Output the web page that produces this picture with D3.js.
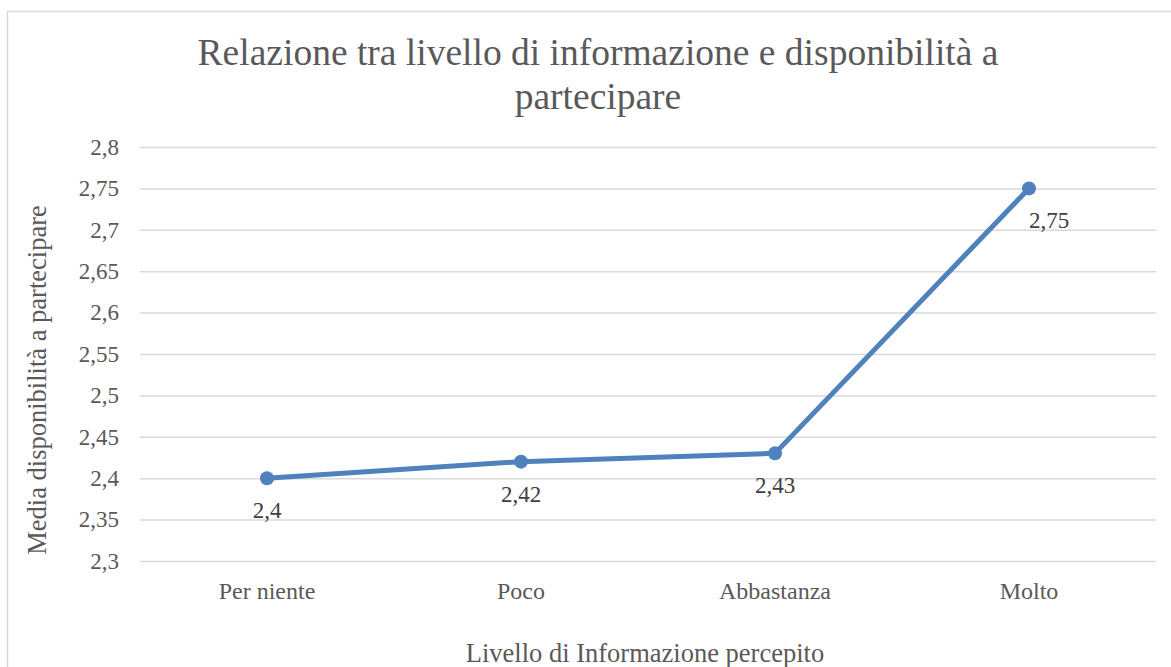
<!DOCTYPE html>
<html>
<head>
<meta charset="utf-8">
<script src="https://cdn.jsdelivr.net/npm/d3@7"></script>
<style>
  body { margin: 0; background: #fff; }
  text { font-family: "Liberation Serif", "Times New Roman", serif; }
</style>
</head>
<body>
<svg id="chart" width="1171" height="667"></svg>
<script>
// Chart data
var categories = ["Per niente", "Poco", "Abbastanza", "Molto"];
var values = [2.4, 2.42, 2.43, 2.75];
var yTicks = [2.3, 2.35, 2.4, 2.45, 2.5, 2.55, 2.6, 2.65, 2.7, 2.75, 2.8];
var titleLines = ["Relazione tra livello di informazione e disponibilità a", "partecipare"];
var xTitle = "Livello di Informazione percepito";
var yTitle = "Media disponibilità a partecipare";

var margin = {top: 147, right: 15, bottom: 106, left: 140},
  width = 1171 - margin.left - margin.right,
  height = 667 - margin.top - margin.bottom;

var fmt = function(v) { return String(v).replace(".", ","); };

var svg = d3.select("#chart");

// outer chart border
svg.append("rect")
  .attr("x", 7.5).attr("y", 11.5)
  .attr("width", 1180).attr("height", 700)
  .attr("fill", "none")
  .attr("stroke", "#d9d9d9")
  .attr("stroke-width", 1.5);

var g = svg.append("g")
  .attr("transform", "translate(" + margin.left + "," + margin.top + ")");

var x = d3.scaleBand().domain(categories).range([0, width]);
var y = d3.scaleLinear().domain([2.3, 2.8]).range([414, 0]);

// gridlines + y labels
var yAxis = g.append("g")
  .call(d3.axisLeft(y).tickValues(yTicks).tickSize(-width).tickPadding(21).tickFormat(fmt));
yAxis.select(".domain").remove();
yAxis.selectAll(".tick line").attr("stroke", "#d9d9d9").attr("stroke-width", 1.5);
yAxis.selectAll(".tick text")
  .attr("fill", "#595959")
  .style("font-size", "23px")
  .style("font-family", "'Liberation Serif', serif");

// x labels
var xAxis = g.append("g")
  .attr("transform", "translate(0,414)")
  .call(d3.axisBottom(x).tickSize(0).tickPadding(21));
xAxis.select(".domain").remove();
xAxis.selectAll(".tick text")
  .attr("fill", "#595959")
  .style("font-size", "24px")
  .style("font-family", "'Liberation Serif', serif");

// line
var line = d3.line()
  .x(function(d, i) { return x(categories[i]) + x.bandwidth() / 2; })
  .y(function(d) { return y(d); });

g.append("path")
  .datum(values)
  .attr("d", line)
  .attr("fill", "none")
  .attr("stroke", "#4f81bd")
  .attr("stroke-width", 5)
  .attr("stroke-linejoin", "round")
  .attr("stroke-linecap", "round");

g.selectAll("circle.pt")
  .data(values)
  .enter().append("circle")
  .attr("class", "pt")
  .attr("cx", function(d, i) { return x(categories[i]) + x.bandwidth() / 2; })
  .attr("cy", function(d) { return y(d); })
  .attr("r", 7)
  .attr("fill", "#4f81bd");

// data labels
g.selectAll("text.lbl")
  .data(values)
  .enter().append("text")
  .attr("class", "lbl")
  .attr("x", function(d, i) { return x(categories[i]) + x.bandwidth() / 2 + (i === 3 ? 20 : 0); })
  .attr("y", function(d) { return y(d) + 40; })
  .attr("text-anchor", "middle")
  .attr("fill", "#404040")
  .style("font-size", "23px")
  .text(fmt);

// title
svg.append("text")
  .attr("x", 598).attr("y", 65)
  .attr("text-anchor", "middle")
  .attr("fill", "#595959")
  .style("font-size", "37.5px")
  .selectAll("tspan")
  .data(titleLines)
  .enter().append("tspan")
  .attr("x", 598)
  .attr("dy", function(d, i) { return i === 0 ? 0 : 44; })
  .text(function(d) { return d; });

// axis titles
svg.append("text")
  .attr("x", margin.left + width / 2 - 3).attr("y", 662)
  .attr("text-anchor", "middle")
  .attr("fill", "#595959")
  .style("font-size", "26.5px")
  .text(xTitle);

svg.append("text")
  .attr("transform", "translate(46,380) rotate(-90)")
  .attr("text-anchor", "middle")
  .attr("fill", "#595959")
  .style("font-size", "26.5px")
  .text(yTitle);
</script>
</body>
</html>
